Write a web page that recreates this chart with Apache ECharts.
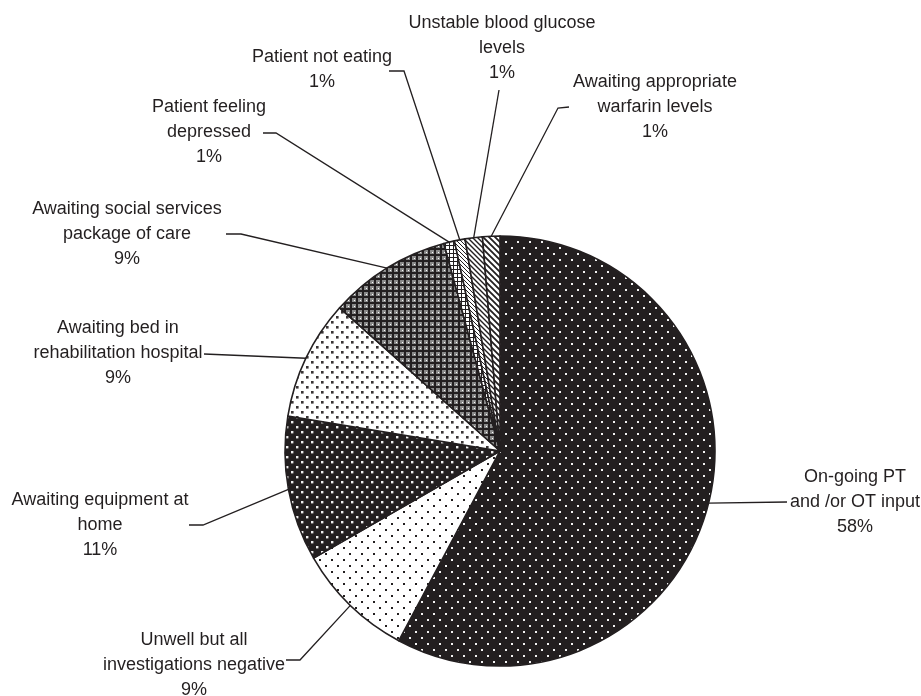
<!DOCTYPE html>
<html><head><meta charset="utf-8">
<script src="https://cdn.jsdelivr.net/npm/echarts@6/dist/echarts.min.js"></script>
<style>html,body{margin:0;padding:0;background:#fff}#c{width:921px;height:696px}</style>
</head><body><div id="c"></div>
<script>
// ---- data ----
const categories = [
  'On-going PT\nand /or OT input',
  'Unwell but all\ninvestigations negative',
  'Awaiting equipment at\nhome',
  'Awaiting bed in\nrehabilitation hospital',
  'Awaiting social services\npackage of care',
  'Patient feeling\ndepressed',
  'Patient not eating',
  'Unstable blood glucose\nlevels',
  'Awaiting appropriate\nwarfarin levels'
];
const values = [57.8, 8.9, 10.9, 9.0, 9.2, 0.8, 0.8, 1.3, 1.3];

// ---- label layout (text anchor + leader-line bends) ----
const labelPos = [
  {x: 855, y: 502, line: [[787, 502]]},
  {x: 194, y: 665, line: [[300, 660], [286, 660]]},
  {x: 100, y: 525, line: [[203, 525], [189, 525]]},
  {x: 118, y: 353, line: [[204, 354]]},
  {x: 127, y: 234, line: [[241, 234], [226, 234]]},
  {x: 209, y: 132, line: [[276, 133], [263, 133]]},
  {x: 322, y: 70,  line: [[404, 71], [389, 71]]},
  {x: 502, y: 48,  line: [[499, 90]]},
  {x: 655, y: 107, line: [[558, 108], [569, 107]]}
];

// ---- pattern tiles ----
const INK = '#231f20';
function tile(w, h, draw) {
  const c = document.createElement('canvas');
  c.width = w; c.height = h;
  const g = c.getContext('2d');
  draw(g, w, h);
  return {image: c, repeat: 'repeat'};
}
function dots(bg, fg, s, d) {
  return tile(s, s, (g) => {
    g.fillStyle = bg; g.fillRect(0, 0, s, s);
    g.fillStyle = fg;
    g.fillRect(1, 1, d, d);
    g.fillRect(1 + s / 2, 1 + s / 2, d, d);
  });
}
function hatch(dir, s, lw, bg) {
  return tile(s, s, (g) => {
    g.fillStyle = bg || '#fff'; g.fillRect(0, 0, s, s);
    g.strokeStyle = INK; g.lineWidth = lw;
    g.beginPath();
    if (dir === '/') {
      g.moveTo(-1, s + 1); g.lineTo(s + 1, -1);
      g.moveTo(-1, 1); g.lineTo(1, -1);
      g.moveTo(s - 1, s + 1); g.lineTo(s + 1, s - 1);
    } else {
      g.moveTo(-1, -1); g.lineTo(s + 1, s + 1);
      g.moveTo(s - 1, -1); g.lineTo(s + 1, 1);
      g.moveTo(-1, s - 1); g.lineTo(1, s + 1);
    }
    g.stroke();
  });
}
const patterns = [
  dots(INK, '#f2f2f2', 12, 2),
  dots('#ffffff', INK, 12, 2),
  dots(INK, '#eeeeee', 10, 2.4),
  dots('#ffffff', '#3a3536', 10, 2.6),
  tile(6, 6, (g) => {
    g.fillStyle = '#8a8a8a'; g.fillRect(0, 0, 6, 6);
    g.fillStyle = INK; g.fillRect(2, 0, 2, 6); g.fillRect(0, 2, 6, 2);
    g.fillStyle = '#fff'; g.fillRect(0, 0, 1, 1);
  }),
  tile(4, 4, (g) => {
    g.fillStyle = '#fff'; g.fillRect(0, 0, 4, 4);
    g.fillStyle = INK; g.fillRect(0, 1, 4, 1); g.fillRect(1, 0, 1, 4);
  }),
  hatch('\\', 4, 1),
  hatch('\\', 5, 1.4),
  hatch('\\', 6, 1.8)
];

const chart = echarts.init(document.getElementById('c'), null, {renderer: 'canvas'});
chart.setOption({
  backgroundColor: '#ffffff',
  animation: false,
  series: [{
    type: 'pie',
    center: [500, 451],
    radius: 215,
    startAngle: 90,
    clockwise: true,
    avoidLabelOverlap: false,
    minShowLabelAngle: 0,
    silent: true,
    data: categories.map((name, i) => ({
      name: name,
      value: values[i],
      itemStyle: {color: patterns[i]}
    })),
    itemStyle: {borderColor: INK, borderWidth: 1.6},
    label: {
      show: true,
      position: 'outside',
      formatter: (p) => p.name + '\n' + Math.round(p.value) + '%',
      fontFamily: '"Liberation Sans", Arial, sans-serif',
      fontSize: 18,
      lineHeight: 25,
      color: INK
    },
    labelLine: {show: true, length: 10, length2: 10, lineStyle: {color: INK, width: 1.3}},
    labelLayout: function (params) {
      const p = labelPos[params.dataIndex];
      const pts = params.labelLinePoints;
      const out = {x: p.x, y: p.y, align: 'center', verticalAlign: 'middle'};
      if (pts && pts.length) out.labelLinePoints = [pts[0]].concat(p.line);
      return out;
    },
    emphasis: {disabled: true}
  }]
});
</script>
</body></html>
